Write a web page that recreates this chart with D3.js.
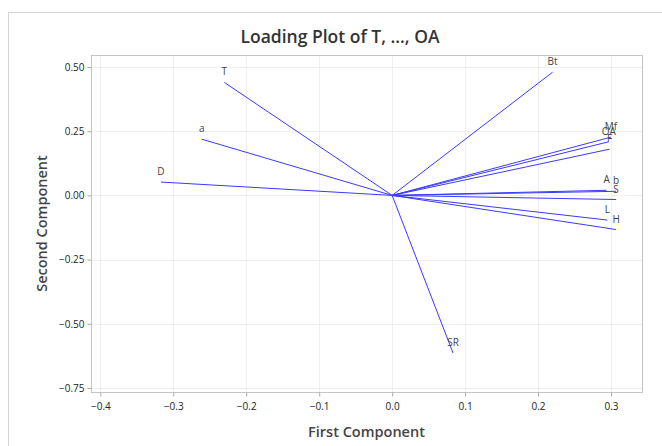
<!DOCTYPE html>
<html>
<head>
<meta charset="utf-8">
<script src="https://cdn.jsdelivr.net/npm/d3@7"></script>
<style>
  body { margin: 0; background: #fff; }
  text { font-family: "Open Sans", "Noto Sans", sans-serif; }
</style>
</head>
<body>
<svg></svg>
<script>
const width = 662;
const height = 446;

// loadings
const names = ["T", "a", "D", "Bt", "Mf", "OA", "F", "A", "b", "S", "L", "H", "SR"];
const pc1 = [-0.230, -0.261, -0.317, 0.220, 0.300, 0.297, 0.298, 0.294, 0.307, 0.307, 0.295, 0.307, 0.0835];
const pc2 = [0.440, 0.219, 0.052, 0.480, 0.227, 0.209, 0.180, 0.020, 0.016, -0.016, -0.096, -0.133, -0.614];

const xTicks = [-0.4, -0.3, -0.2, -0.1, 0.0, 0.1, 0.2, 0.3];
const yTicks = [0.5, 0.25, 0, -0.25, -0.5, -0.75];

const margin = { top: 55, right: 20, bottom: 54, left: 91 };

const svg = d3.select("svg").attr("width", width).attr("height", height);

svg.append("rect")
  .attr("x", 8.5).attr("y", 12.5)
  .attr("width", 700).attr("height", 500)
  .attr("fill", "none").attr("stroke", "#d4d4d4");

const x = d3.scaleLinear().domain([-0.4128, 0.3425]).range([margin.left, width - margin.right]);
const y = d3.scaleLinear().domain([-0.7656, 0.5468]).range([height - margin.bottom, margin.top]);

const g = svg.append("g");

// grid
g.selectAll(".vg").data(xTicks).join("line")
  .attr("x1", d => Math.round(x(d)) + 0.5).attr("x2", d => Math.round(x(d)) + 0.5)
  .attr("y1", y.range()[1]).attr("y2", y.range()[0])
  .attr("stroke", "#efefef");
g.selectAll(".hg").data(yTicks).join("line")
  .attr("y1", d => Math.round(y(d)) + 0.5).attr("y2", d => Math.round(y(d)) + 0.5)
  .attr("x1", x.range()[0]).attr("x2", x.range()[1])
  .attr("stroke", "#efefef");

// frame
g.append("rect")
  .attr("x", x.range()[0] + 0.5).attr("y", y.range()[1] + 0.5)
  .attr("width", x.range()[1] - x.range()[0]).attr("height", y.range()[0] - y.range()[1])
  .attr("fill", "none").attr("stroke", "#c4c4c4");

// axes
const xAxis = svg.append("g")
  .attr("transform", `translate(0,${y.range()[0] + 0.5})`)
  .call(d3.axisBottom(x).tickValues(xTicks).tickFormat(d3.format(".1f")).tickSize(4).tickPadding(6));
const yAxis = svg.append("g")
  .attr("transform", `translate(${x.range()[0] + 0.5},0)`)
  .call(d3.axisLeft(y).tickValues(yTicks).tickFormat(d3.format(".2f")).tickSize(4).tickPadding(3));

[xAxis, yAxis].forEach(a => {
  a.select(".domain").remove();
  a.selectAll(".tick line").attr("stroke", "#aaa");
  a.selectAll(".tick text").attr("fill", "#222").style("font-size", "10px");
});

// loading vectors
const rows = names.map((n, i) => ({ name: n, x: pc1[i], y: pc2[i] }));

g.selectAll(".vec").data(rows).join("line")
  .attr("x1", x(0)).attr("y1", y(0))
  .attr("x2", d => x(d.x)).attr("y2", d => y(d.y))
  .attr("stroke", "#3a3aff").attr("stroke-width", 1);

g.selectAll(".lab").data(rows).join("text")
  .attr("x", d => x(d.x))
  .attr("y", d => y(d.y) - 7)
  .attr("text-anchor", "middle")
  .attr("fill", "#444")
  .style("font-size", "10px")
  .text(d => d.name);

// titles
svg.append("text")
  .attr("x", 340).attr("y", 43)
  .attr("text-anchor", "middle")
  .attr("fill", "#333")
  .style("font-size", "17.5px")
  .style("font-weight", "600")
  .text("Loading Plot of T, ..., OA");

svg.append("text")
  .attr("x", (x.range()[0] + x.range()[1]) / 2).attr("y", 437)
  .attr("text-anchor", "middle")
  .attr("fill", "#444")
  .style("font-size", "14.5px")
  .style("font-weight", "600")
  .text("First Component");

svg.append("text")
  .attr("transform", `translate(47,${(y.range()[0] + y.range()[1]) / 2}) rotate(-90)`)
  .attr("text-anchor", "middle")
  .attr("fill", "#444")
  .style("font-size", "14.5px")
  .style("font-weight", "600")
  .text("Second Component");
</script>
</body>
</html>
